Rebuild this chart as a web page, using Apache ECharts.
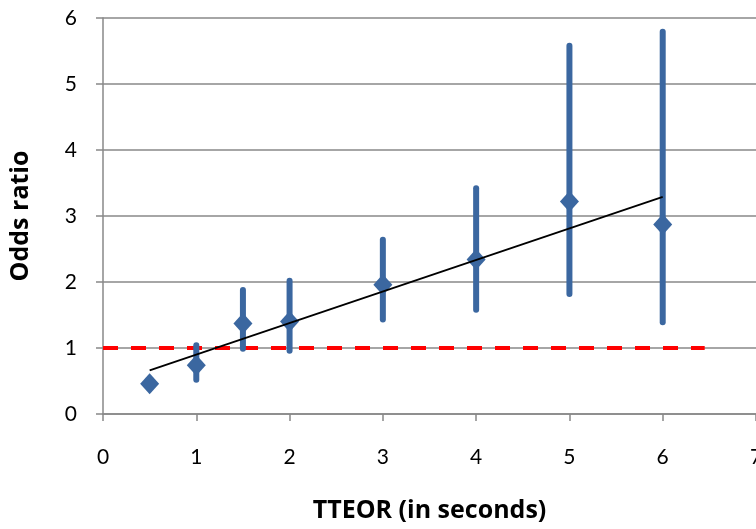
<!DOCTYPE html>
<html>
<head>
<meta charset="utf-8">
<script src="https://cdn.jsdelivr.net/npm/echarts@6/dist/echarts.min.js"></script>
<style>
html,body{margin:0;padding:0;background:#fff;}
#chart{width:756px;height:529px;}
</style>
</head>
<body>
<div id="chart"></div>
<script>
// Data
const xValues = [0.5, 1, 1.5, 2, 3, 4, 5, 6];
const oddsRatio = [0.46, 0.74, 1.37, 1.40, 1.96, 2.34, 3.22, 2.87];
const ciLow  = [0.46, 0.52, 0.99, 0.96, 1.43, 1.58, 1.82, 1.39];
const ciHigh = [0.46, 1.04, 1.88, 2.02, 2.64, 3.42, 5.58, 5.79];
const trendX = [0.5, 6];
const trendY = [0.66, 3.29];
const refX = [0, 6.45];
const refY = [1, 1];

const blue = '#3B67A0';
const font = 'Lato, "Open Sans", sans-serif';
const titleFont = '"Open Sans", Lato, sans-serif';

const chart = echarts.init(document.getElementById('chart'), null, {renderer: 'canvas'});

const barData = xValues.map((x, i) => [x, ciLow[i], ciHigh[i]]);

chart.setOption({
  animation: false,
  backgroundColor: '#fff',
  grid: {left: 103, top: 18, right: 0, bottom: 115, containLabel: false, outerBoundsMode: 'none'},
  xAxis: {
    type: 'value', min: 0, max: 7, interval: 1,
    name: 'TTEOR (in seconds)', nameLocation: 'middle', nameGap: 84,
    nameTextStyle: {fontFamily: titleFont, fontWeight: 'bold', fontSize: 25, color: '#000'},
    axisLine: {show: true, lineStyle: {color: '#888', width: 1.5}},
    axisTick: {show: true, length: 7, lineStyle: {color: '#888', width: 1.5}},
    axisLabel: {fontFamily: font, fontSize: 21, color: '#000', margin: 33, showMaxLabel: true, hideOverlap: false},
    splitLine: {show: false}
  },
  yAxis: {
    type: 'value', min: 0, max: 6, interval: 1,
    name: 'Odds ratio', nameLocation: 'middle', nameGap: 70, nameRotate: 90,
    nameTextStyle: {fontFamily: titleFont, fontWeight: 'bold', fontSize: 25, color: '#000'},
    axisLine: {show: true, lineStyle: {color: '#888', width: 1.5}},
    axisTick: {show: true, length: 7, lineStyle: {color: '#888', width: 1.5}},
    axisLabel: {fontFamily: font, fontSize: 21, color: '#000', margin: 26},
    splitLine: {show: true, lineStyle: {color: '#888', width: 1.5}}
  },
  series: [
    {
      type: 'line', data: refX.map((x, i) => [x, refY[i]]),
      symbol: 'none', z: 2,
      lineStyle: {color: '#FF0000', width: 4, type: [15, 13]}
    },
    {
      type: 'custom', data: barData, z: 3,
      renderItem: function (params, api) {
        const p1 = api.coord([api.value(0), api.value(1)]);
        const p2 = api.coord([api.value(0), api.value(2)]);
        return {
          type: 'line',
          shape: {x1: p1[0], y1: p1[1], x2: p2[0], y2: p2[1]},
          style: {stroke: blue, lineWidth: 6, lineCap: 'round'}
        };
      }
    },
    {
      type: 'scatter', data: xValues.map((x, i) => [x, oddsRatio[i]]),
      symbol: 'diamond', symbolSize: [19, 21], z: 4,
      itemStyle: {color: blue, opacity: 1}
    },
    {
      type: 'line', data: trendX.map((x, i) => [x, trendY[i]]),
      symbol: 'none', z: 5,
      lineStyle: {color: '#000', width: 1.8}
    }
  ]
});
</script>
</body>
</html>
